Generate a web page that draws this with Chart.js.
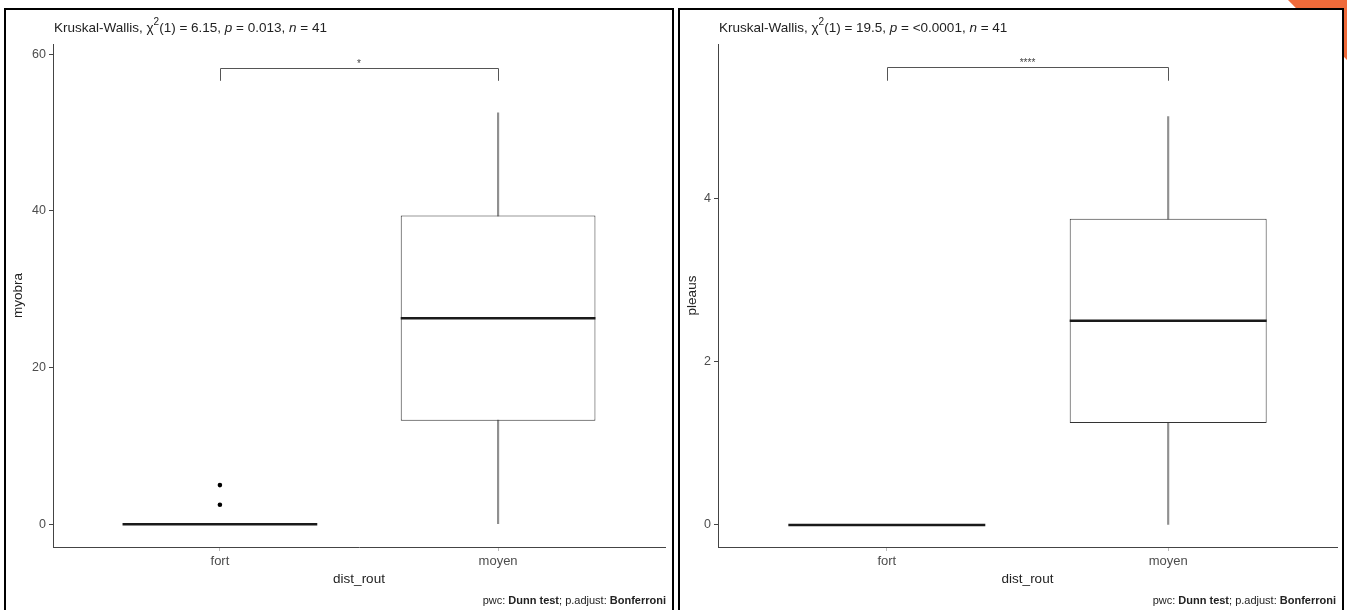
<!DOCTYPE html>
<html>
<head>
<meta charset="utf-8">
<script src="https://cdn.jsdelivr.net/npm/chart.js@4.4.1/dist/chart.umd.min.js"></script>
<style>
  html, body { margin:0; padding:0; background:#fff; width:1347px; height:610px; overflow:hidden; }
  .tri { position:absolute; left:1288px; top:0; width:59px; height:60px; background:#ef6a3a;
         clip-path: polygon(0 0, 100% 0, 100% 100%); }
  .panel { position:absolute; top:8px; height:610px; border:2px solid #000; border-bottom:none;
           box-sizing:border-box; background:#fff; }
  canvas { position:absolute; left:0; top:0; }
</style>
</head>
<body>
<div class="tri"></div>
<div class="panel" id="p1" style="left:4px; width:670px;"><canvas id="c1" width="666" height="600"></canvas></div>
<div class="panel" id="p2" style="left:678px; width:666px;"><canvas id="c2" width="662" height="600"></canvas></div>
<script>
// ---------- data ----------
const categories = ['fort', 'moyen'];
const xTitle = 'dist_rout';

const myobraMin = [0, 0];
const myobraQ1 = [0, 13.2];
const myobraMedian = [0, 26.3];
const myobraQ3 = [0, 39.4];
const myobraMax = [0, 52.5];
const myobraOutliers = [[2.5, 5], []];
const myobraTicks = [0, 20, 40, 60];
const myobraRange = [-2.9, 61.3];
const myobraBracket = [58.2, 56.6];   // bar level, tip level
const myobraSignif = '*';
const myobraStat = ['6.15', '0.013', '41'];

const pleausMin = [0, 0];
const pleausQ1 = [0, 1.25];
const pleausMedian = [0, 2.5];
const pleausQ3 = [0, 3.75];
const pleausMax = [0, 5];
const pleausOutliers = [[], []];
const pleausTicks = [0, 2, 4];
const pleausRange = [-0.27, 5.89];
const pleausBracket = [5.61, 5.44];
const pleausSignif = '****';
const pleausStat = ['19.5', '<0.0001', '41'];

const FONT = '"Liberation Sans", Arial, sans-serif';

function makeChart(canvasId, yTitle, mins, q1s, meds, q3s, maxs, outs, ticks, range, bracket, signif, stat, area) {
  const canvas = document.getElementById(canvasId);
  const W = canvas.width, H = canvas.height;

  const whiskerData = categories.map((c, i) => ({ x: i + 1, y: [mins[i], maxs[i]] }));
  const boxData = categories.map((c, i) => ({ x: i + 1, y: [q1s[i], q3s[i]] }));
  const outlierData = [];
  outs.forEach((arr, i) => arr.forEach(v => outlierData.push({ x: i + 1, y: v })));

  const boxPlugin = {
    id: 'boxExtras',
    afterDatasetsDraw(chart) {
      const ctx = chart.ctx;
      const xs = chart.scales.x, ys = chart.scales.y;
      const boxMeta = chart.getDatasetMeta(1);
      ctx.save();
      // medians
      boxMeta.data.forEach((bar, i) => {
        const half = bar.width / 2;
        const yy = ys.getPixelForValue(meds[i]);
        ctx.strokeStyle = '#1a1a1a';
        ctx.lineWidth = 2.4;
        ctx.beginPath();
        ctx.moveTo(bar.x - half, yy);
        ctx.lineTo(bar.x + half, yy);
        ctx.stroke();
      });
      // bracket
      const xa = xs.getPixelForValue(1), xb = xs.getPixelForValue(2);
      const yb = Math.round(ys.getPixelForValue(bracket[0])) + 0.5;
      const yt = ys.getPixelForValue(bracket[1]);
      ctx.strokeStyle = '#555';
      ctx.lineWidth = 1;
      ctx.beginPath();
      ctx.moveTo(Math.round(xa) + 0.5, yt);
      ctx.lineTo(Math.round(xa) + 0.5, yb);
      ctx.lineTo(Math.round(xb) + 0.5, yb);
      ctx.lineTo(Math.round(xb) + 0.5, yt);
      ctx.stroke();
      ctx.fillStyle = '#444';
      ctx.font = '10px ' + FONT;
      ctx.textAlign = 'center';
      ctx.textBaseline = 'alphabetic';
      ctx.fillText(signif, (xa + xb) / 2, yb - 2);

      // subtitle
      let x = chart.chartArea.left + 1;
      const baseY = 22;
      const parts = [
        ['Kruskal-Wallis, χ', 'normal'],
        ['2', 'sup'],
        ['(1) = ' + stat[0] + ', ', 'normal'],
        ['p', 'italic'],
        [' = ' + stat[1] + ', ', 'normal'],
        ['n', 'italic'],
        [' = ' + stat[2], 'normal']
      ];
      ctx.textAlign = 'left';
      ctx.fillStyle = '#222';
      parts.forEach(([t, s]) => {
        let y = baseY;
        if (s === 'sup') { ctx.font = '10px ' + FONT; y = baseY - 7; }
        else if (s === 'italic') { ctx.font = 'italic 13.5px ' + FONT; }
        else { ctx.font = '13.5px ' + FONT; }
        ctx.fillText(t, x, y);
        x += ctx.measureText(t).width;
      });

      // caption
      const cap = [['pwc: ', ''], ['Dunn test', 'bold '], ['; p.adjust: ', ''], ['Bonferroni', 'bold ']];
      let total = 0;
      cap.forEach(([t, b]) => { ctx.font = b + '11px ' + FONT; total += ctx.measureText(t).width; });
      let cx = W - 6 - total;
      ctx.fillStyle = '#222';
      cap.forEach(([t, b]) => {
        ctx.font = b + '11px ' + FONT;
        ctx.fillText(t, cx, 594);
        cx += ctx.measureText(t).width;
      });
      ctx.restore();
    }
  };

  return new Chart(canvas, {
    type: 'bar',
    data: {
      datasets: [
        { type: 'bar', data: whiskerData, grouped: false, barThickness: 1.5,
          backgroundColor: '#909090', borderWidth: 0, order: 3 },
        { type: 'bar', data: boxData, grouped: false, barPercentage: 0.7, categoryPercentage: 1,
          backgroundColor: '#ffffff', borderColor: '#333', borderWidth: 1, borderSkipped: false, order: 2 },
        { type: 'scatter', data: outlierData, pointRadius: 2.3, pointBackgroundColor: '#000',
          pointBorderWidth: 0, order: 1 }
      ]
    },
    options: {
      responsive: false,
      animation: false,
      devicePixelRatio: 1,
      plugins: { legend: { display: false }, tooltip: { enabled: false } },
      layout: { padding: { left: 0, top: area.top, right: W - area.right, bottom: 0 } },
      scales: {
        x: {
          type: 'linear', min: 0.4, max: 2.6, offset: false,
          afterBuildTicks: s => { s.ticks = categories.map((c, i) => ({ value: i + 1 })); },
          afterFit: s => { s.height = H - area.bottom; },
          ticks: { callback: v => categories[v - 1], color: '#4d4d4d', padding: 3,
                   font: { family: FONT, size: 13 } },
          grid: { offset: false, drawOnChartArea: false, drawTicks: true, tickLength: 4, tickColor: '#bbb' },
          border: { display: true, color: '#444', width: 1 },
          title: { display: true, text: xTitle, color: '#222', font: { family: FONT, size: 13.5 },
                   padding: { top: 0, bottom: 23 } }
        },
        y: {
          min: range[0], max: range[1],
          afterBuildTicks: s => { s.ticks = ticks.map(v => ({ value: v })); },
          afterFit: s => { s.width = area.left; },
          ticks: { color: '#4d4d4d', padding: 3, font: { family: FONT, size: 12.5 } },
          grid: { drawOnChartArea: false, drawTicks: true, tickLength: 4, tickColor: '#444' },
          border: { display: true, color: '#444', width: 1 },
          title: { display: true, text: yTitle, color: '#222', font: { family: FONT, size: 13.5 },
                   padding: { top: 4, bottom: 0 } }
        }
      }
    },
    plugins: [boxPlugin]
  });
}

makeChart('c1', 'myobra', myobraMin, myobraQ1, myobraMedian, myobraQ3, myobraMax, myobraOutliers,
          myobraTicks, myobraRange, myobraBracket, myobraSignif, myobraStat,
          { left: 47, right: 659, top: 34, bottom: 537 });
makeChart('c2', 'pleaus', pleausMin, pleausQ1, pleausMedian, pleausQ3, pleausMax, pleausOutliers,
          pleausTicks, pleausRange, pleausBracket, pleausSignif, pleausStat,
          { left: 38, right: 657, top: 34, bottom: 537 });
</script>
</body>
</html>
